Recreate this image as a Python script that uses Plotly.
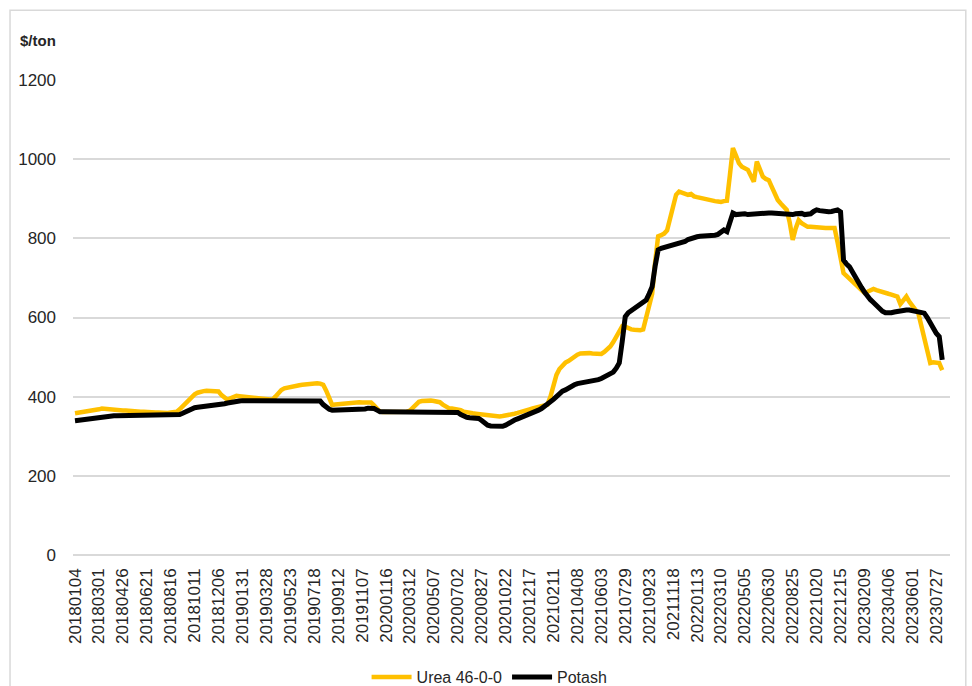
import datetime as dt
import plotly.graph_objects as go

# Weekly observation dates (two holiday weeks absent from the source)
START_DATE = "20180104"
N_WEEKS = 291
MISSING_WEEKS = ["20191226", "20200102"]

TICK_LABELS = [
    "20180104", "20180301", "20180426", "20180621", "20180816", "20181011", "20181206",
    "20190131", "20190328", "20190523", "20190718", "20190912", "20191107",
    "20200116", "20200312", "20200507", "20200702", "20200827", "20201022", "20201217",
    "20210211", "20210408", "20210603", "20210729", "20210923", "20211118",
    "20220113", "20220310", "20220505", "20220630", "20220825", "20221020", "20221215",
    "20230209", "20230406", "20230601", "20230727",
]

UREA = [
    358, 359, 360, 361, 362, 364, 365, 367, 368, 370,
    369, 368, 368, 367, 366, 366, 365, 365, 364, 364,
    363, 363, 362, 362, 361, 361, 360, 360, 360, 359,
    359, 359, 360, 361, 362, 368, 376, 385, 393, 400,
    406, 410, 413, 414, 415, 415, 414, 414, 413, 404,
    396, 392, 396, 400, 402, 401, 400, 399, 398, 397,
    396, 396, 395, 394, 393, 392, 392, 400, 410, 417,
    421, 423, 425, 427, 428, 429, 430, 431, 432, 433,
    434, 434, 433, 430, 415, 395, 379, 380, 381, 382,
    383, 384, 385, 386, 387, 386, 385, 385, 386, 385,
    378, 368, 362, 361, 361, 360, 360, 360, 360, 360,
    361, 362, 365, 372, 381, 387, 389, 390, 390, 390,
    389, 388, 386, 380, 375, 371, 370, 369, 368, 366,
    362, 360, 359, 358, 357, 356, 355, 354, 353, 352,
    351, 350, 350, 351, 352, 353, 355, 357, 359, 362,
    364, 366, 368, 370, 372, 374, 376, 378, 380, 400,
    430, 455, 470, 480, 486, 490, 496, 502, 506, 509,
    510, 510, 510, 509, 509, 508, 508, 513, 520, 527,
    538, 552, 568, 578, 577, 573, 570, 569, 568, 568,
    570, 600, 625, 660, 740, 805, 808, 812, 820, 850,
    885, 910, 918, 915, 912, 910, 912, 906, 904, 902,
    900, 899, 897, 896, 894, 893, 892, 894, 895, 960,
    1028, 1010, 990, 981, 976, 973, 958, 943, 994, 975,
    956, 950, 947, 930, 912, 897, 888, 880, 872, 840,
    796, 825, 846, 838, 832, 829, 829, 828, 828, 827,
    827, 826, 826, 826, 826, 790, 745, 712, 705, 698,
    690, 682, 675, 668, 662, 665, 670, 672, 669, 666,
    664, 662, 660, 658, 656, 653, 634, 645, 653, 640,
    628, 620, 611, 580, 545, 510, 485, 487, 486, 485,
    467,
]

POTASH = [
    339, 340, 341, 342, 344, 346, 347, 349, 350, 351,
    351, 352, 352, 352, 352, 352, 352, 352, 352, 352,
    352, 352, 352, 352, 352, 352, 352, 352, 352, 352,
    352, 352, 352, 352, 353, 355, 358, 362, 366, 369,
    372, 373, 374, 375, 375, 374, 376, 377, 378, 380,
    382, 384, 386, 387, 388, 389, 390, 390, 390, 390,
    390, 391, 391, 391, 391, 391, 391, 391, 391, 391,
    391, 391, 391, 391, 391, 391, 391, 391, 391, 391,
    391, 390, 389, 380, 372, 368, 366, 366, 367, 368,
    368, 368, 367, 367, 366, 366, 367, 369, 371, 372,
    370, 366, 362, 362, 362, 362, 362, 362, 362, 362,
    362, 362, 362, 362, 362, 362, 362, 362, 362, 362,
    362, 362, 362, 362, 362, 362, 362, 362, 360, 355,
    350, 348, 347, 346, 346, 345, 340, 332, 328, 326,
    325, 324, 324, 325, 328, 333, 337, 341, 344, 347,
    350, 352, 354, 358, 362, 366, 370, 375, 380, 386,
    393, 400, 408, 414, 417, 422, 426, 430, 433, 434,
    436, 438, 440, 441, 442, 443, 446, 450, 453, 455,
    462, 472, 485, 540, 602, 612, 618, 624, 628, 634,
    640, 644, 660, 678, 730, 771, 775, 777, 779, 782,
    784, 786, 787, 788, 792, 797, 800, 802, 804, 805,
    805, 806, 807, 808, 808, 810, 815, 821, 817, 840,
    864, 860, 861, 860, 862, 860, 861, 859, 860, 862,
    863, 863, 864, 864, 863, 864, 862, 860, 859, 861,
    860, 862, 864, 863, 860, 860, 862, 868, 872, 870,
    868, 868, 867, 868, 870, 872, 867, 745, 735, 728,
    715, 700, 688, 676, 664, 653, 645, 638, 630, 622,
    616, 612, 611, 612, 614, 616, 617, 618, 619, 619,
    617, 615, 613, 611, 611, 600, 585, 568, 560, 552,
    493,
]

# build weekly category labels
dates = []
d = dt.datetime.strptime(START_DATE, "%Y%m%d")
while len(dates) < N_WEEKS:
    s = d.strftime("%Y%m%d")
    if s not in MISSING_WEEKS:
        dates.append(s)
    d += dt.timedelta(days=7)

n = min(len(dates), len(UREA), len(POTASH))
dates = dates[:n]

FONT = "Liberation Sans, Arial, sans-serif"

fig = go.Figure()
fig.add_trace(go.Scatter(
    x=dates, y=UREA[:n], mode="lines", name="Urea 46-0-0",
    line=dict(color="#FFC000", width=4.5),
))
fig.add_trace(go.Scatter(
    x=dates, y=POTASH[:n], mode="lines", name="Potash",
    line=dict(color="#000000", width=5),
))

fig.update_layout(
    width=972, height=686,
    margin=dict(l=73, r=22, t=80, b=131, autoexpand=False),
    paper_bgcolor="white", plot_bgcolor="white",
    font=dict(family=FONT, size=16, color="#262626"),
    showlegend=True,
    legend=dict(orientation="h", x=0.475, xanchor="center", y=-0.257, yanchor="middle",
                font=dict(size=16, color="#262626"), itemwidth=40, tracegroupgap=0),
    xaxis=dict(
        type="category", categoryorder="array", categoryarray=dates,
        range=[-0.67, 292.6], automargin=False,
        tickmode="array", tickvals=TICK_LABELS, ticktext=TICK_LABELS,
        tickangle=-90, tickfont=dict(size=17, color="#262626"),
        showgrid=False, showline=False, ticks="", ticklabelstandoff=9,
    ),
    yaxis=dict(
        range=[0, 1200], dtick=200, tick0=0, automargin=False,
        showgrid=True, gridcolor="#D9D9D9", gridwidth=1.5,
        zeroline=True, zerolinecolor="#D9D9D9", zerolinewidth=1.5,
        showline=False, ticks="", ticklabelstandoff=16,
        tickfont=dict(size=17, color="#262626"),
    ),
    annotations=[dict(
        text="<b>$/ton</b>", xref="paper", yref="paper",
        x=-0.0627, y=1.084, xanchor="left", yanchor="middle",
        showarrow=False, font=dict(size=15, color="#262626", family=FONT),
    )],
    shapes=[dict(
        type="rect", xref="paper", yref="paper",
        x0=-0.0718, x1=1.018, y0=-0.30, y1=1.147,
        line=dict(color="#D9D9D9", width=1.5), fillcolor="rgba(0,0,0,0)", layer="below",
    )],
)

fig.write_html("out.html")
